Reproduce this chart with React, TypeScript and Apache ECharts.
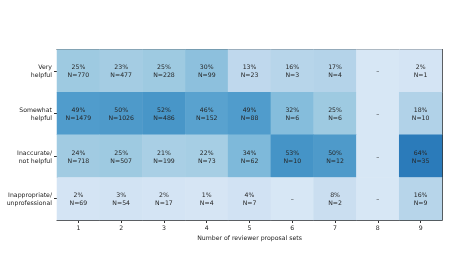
import React, { useEffect, useRef } from "react";
import * as echarts from "echarts";

const xCategories = ["1", "2", "3", "4", "5", "6", "7", "8", "9"];
const yCategories = ["Very\nhelpful", "Somewhat\nhelpful", "Inaccurate/\nnot helpful", "Inappropriate/\nunprofessional"];

// percentages (null = no data)
const pctVery = [25, 23, 25, 30, 13, 16, 17, null, 2];
const pctSomewhat = [49, 50, 52, 46, 49, 32, 25, null, 18];
const pctInaccurate = [24, 25, 21, 22, 34, 53, 50, null, 64];
const pctInappropriate = [2, 3, 2, 1, 4, null, 8, null, 16];

const nVery = [770, 477, 228, 99, 23, 3, 4, null, 1];
const nSomewhat = [1479, 1026, 486, 152, 88, 6, 6, null, 10];
const nInaccurate = [718, 507, 199, 73, 62, 10, 12, null, 35];
const nInappropriate = [69, 54, 17, 4, 7, null, 2, null, 9];

const pctRows = [pctVery, pctSomewhat, pctInaccurate, pctInappropriate];
const nRows = [nVery, nSomewhat, nInaccurate, nInappropriate];

const BLUES = ["#f7fbff", "#deebf7", "#c6dbef", "#9ecae1", "#6baed6", "#4292c6", "#2171b5", "#08519c", "#08306b"];

export default function App() {
  const ref = useRef<HTMLDivElement>(null);
  useEffect(() => {
    document.body.style.margin = "0";
    const chart = echarts.init(ref.current!, null, { renderer: "svg" });
    const data: any[] = [];
    pctRows.forEach((row, yi) => {
      row.forEach((p, xi) => {
        const n = nRows[yi][xi];
        data.push({
          value: [xi, yi, p == null ? 0 : p],
          label: { formatter: p == null ? "–" : `${p}%\nN=${n}` },
        });
      });
    });
    const font = "DejaVu Sans";
    const axisLine = { show: true, onZero: false, lineStyle: { color: "#333", width: 1 } };
    chart.setOption({
      animation: false,
      grid: { left: 57, right: 7, top: 49.5, bottom: 50 },
      visualMap: {
        show: false,
        type: "continuous",
        dimension: 2,
        min: -18.6,
        max: 97.7,
        inRange: { color: BLUES },
      },
      xAxis: [
        {
          type: "category",
          data: xCategories,
          position: "bottom",
          axisLine,
          axisTick: { show: true, alignWithLabel: true, length: 3, lineStyle: { color: "#333" } },
          axisLabel: { color: "#222", fontSize: 6.2, fontFamily: font, margin: 4 },
          splitLine: { show: false },
          splitArea: { show: false },
          name: "Number of reviewer proposal sets",
          nameLocation: "middle",
          nameGap: 13,
          nameTextStyle: { color: "#222", fontSize: 6.2, fontFamily: font },
        },
        {
          type: "category",
          data: xCategories,
          position: "top",
          axisLine,
          axisTick: { show: false },
          axisLabel: { show: false },
        },
      ],
      yAxis: [
        {
          type: "category",
          data: yCategories,
          inverse: true,
          position: "left",
          axisLine,
          axisTick: { show: true, alignWithLabel: true, length: 3, lineStyle: { color: "#333" } },
          axisLabel: { color: "#222", fontSize: 6.2, fontFamily: font, margin: 5, align: "right", lineHeight: 8 },
          splitLine: { show: false },
          splitArea: { show: false },
        },
        {
          type: "category",
          data: yCategories,
          inverse: true,
          position: "right",
          axisLine,
          axisTick: { show: false },
          axisLabel: { show: false },
        },
      ],
      series: [
        {
          type: "heatmap",
          data,
          z: 1,
          label: { show: true, color: "#262626", fontSize: 6.2, fontFamily: font, lineHeight: 8 },
          itemStyle: { borderWidth: 0 },
          emphasis: { disabled: true },
        },
      ],
    });
    return () => chart.dispose();
  }, []);
  return <div ref={ref} style={{ width: 449, height: 270, willChange: "transform" }} />;
}
